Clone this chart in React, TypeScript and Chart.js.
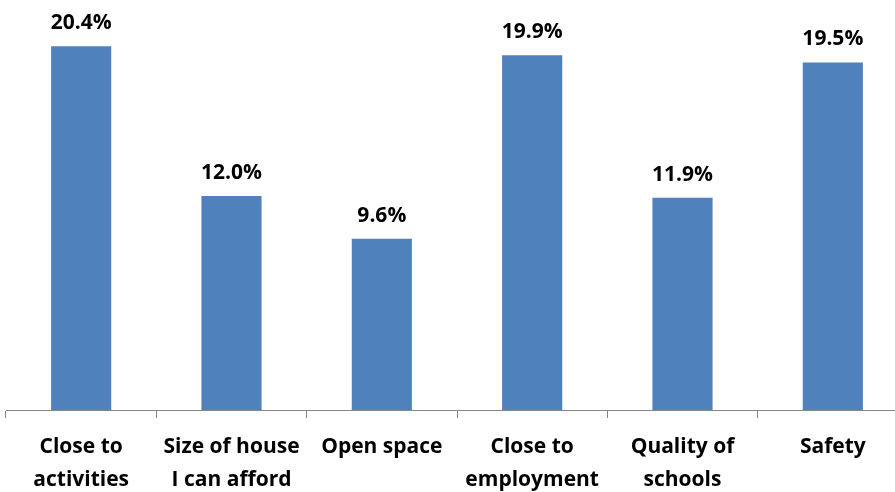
import React, { useEffect, useRef } from "react";
import { Chart, registerables } from "chart.js";

Chart.register(...registerables);

const categories: string[][] = [
  ["Close to", "activities"],
  ["Size of house", "I can afford"],
  ["Open space"],
  ["Close to", "employment"],
  ["Quality of", "schools"],
  ["Safety"],
];
const values: number[] = [20.4, 12.0, 9.6, 19.9, 11.9, 19.5];
const valueLabels: string[] = ["20.4%", "12.0%", "9.6%", "19.9%", "11.9%", "19.5%"];

const FONT = "'Open Sans', 'Noto Sans', sans-serif";

const dataLabelPlugin = {
  id: "dataLabels",
  afterDatasetsDraw(chart: any) {
    const ctx = chart.ctx;
    const meta = chart.getDatasetMeta(0);
    ctx.save();
    ctx.font = `bold 21px ${FONT}`;
    ctx.fillStyle = "#000";
    ctx.textAlign = "center";
    ctx.textBaseline = "alphabetic";
    meta.data.forEach((el: any, i: number) => {
      ctx.fillText(valueLabels[i], el.x, el.y - 17);
    });
    ctx.restore();
  },
};

export default function App() {
  const ref = useRef<HTMLCanvasElement>(null);
  useEffect(() => {
    if (!ref.current) return;
    const chart = new Chart(ref.current, {
      type: "bar",
      data: {
        labels: categories,
        datasets: [
          {
            data: values,
            backgroundColor: "#4F81BD",
            borderWidth: 0,
            barPercentage: 0.4,
            categoryPercentage: 1,
          },
        ],
      },
      options: {
        animation: false,
        responsive: false,
        maintainAspectRatio: false,
        layout: { padding: { left: 6, right: 0, top: 0, bottom: 0 } },
        plugins: { legend: { display: false }, tooltip: { enabled: false } },
        scales: {
          y: { display: false, min: 0, max: 23.0 },
          x: {
            grid: {
              offset: true,
              drawOnChartArea: false,
              tickLength: 8,
              color: "#868686",
            },
            border: { color: "#868686", width: 1 },
            ticks: {
              color: "#000",
              font: { family: FONT, size: 21, weight: "bold", lineHeight: 1.58 },
              padding: 12,
              maxRotation: 0,
              autoSkip: false,
            },
            afterFit(scale: any) {
              scale.height = 82;
            },
          },
        },
      },
      plugins: [dataLabelPlugin],
    });
    return () => chart.destroy();
  }, []);
  return (
    <div style={{ position: "fixed", left: 0, top: 0, width: 895, height: 492, overflow: "hidden", background: "#fff" }}>
      <canvas ref={ref} width={908} height={492} style={{ display: "block" }} />
    </div>
  );
}
